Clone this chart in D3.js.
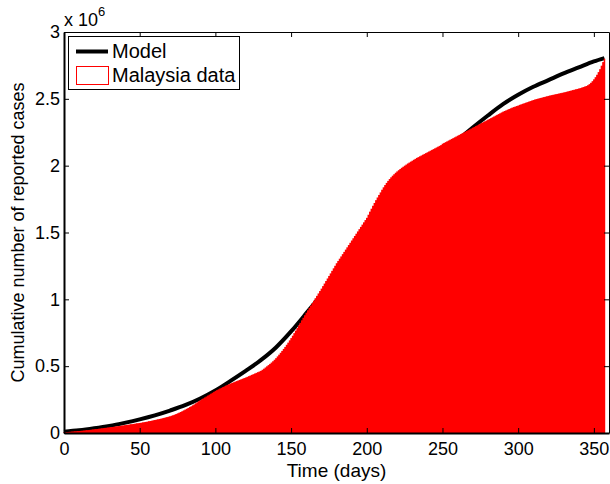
<!DOCTYPE html>
<html lang="en">
<head>
<meta charset="UTF-8">
<title>Cumulative cases</title>
<script src="https://d3js.org/d3.v7.min.js"></script>
<style>
  body { margin: 0; background: white; }
  svg text { font-family: "Liberation Sans", Arial, sans-serif; fill: black; }
</style>
</head>
<body>
<svg id="chart"></svg>
<script>
// daily reported cumulative cases (thousands), day 0..357
const reported = [
  5,6,7,8,9,10,11,12,13,14,
  15,16,17,18,20,21,22,23,25,26,
  28,29,30,32,33,35,36,38,39,41,
  42,44,45,47,48,50,51,53,55,56,
  58,60,61,63,65,66,68,70,72,73,
  75,77,79,81,83,85,88,90,92,95,
  97,100,102,105,107,110,113,116,119,122,
  125,129,133,137,142,147,152,157,163,169,
  175,181,187,194,200,207,214,222,230,238,
  245,252,259,266,273,280,287,294,301,308,
  315,321,327,333,338,344,349,355,360,365,
  370,375,379,384,388,393,397,402,406,411,
  415,420,425,430,435,440,445,450,455,460,
  465,473,481,490,499,508,517,527,537,548,
  560,573,586,600,614,629,644,660,676,693,
  710,728,747,766,785,805,824,843,862,881,
  900,918,936,954,972,990,1008,1026,1044,1062,
  1080,1099,1118,1137,1156,1175,1194,1213,1232,1251,
  1270,1287,1304,1321,1338,1355,1372,1389,1406,1423,
  1440,1457,1474,1491,1508,1525,1542,1559,1576,1593,
  1610,1633,1656,1678,1700,1721,1742,1762,1781,1800,
  1820,1838,1855,1871,1886,1900,1913,1925,1936,1947,
  1957,1966,1975,1984,1992,2000,2008,2016,2023,2030,
  2037,2044,2051,2058,2064,2070,2076,2082,2088,2094,
  2100,2106,2112,2118,2124,2130,2136,2142,2148,2154,
  2164,2170,2176,2182,2188,2194,2200,2206,2212,2218,
  2224,2230,2236,2242,2248,2254,2260,2266,2272,2278,
  2284,2290,2296,2302,2308,2314,2320,2326,2332,2338,
  2344,2350,2356,2362,2368,2374,2380,2386,2392,2398,
  2404,2409,2414,2419,2424,2429,2434,2438,2442,2446,
  2450,2455,2459,2463,2467,2471,2475,2479,2483,2487,
  2491,2495,2498,2501,2504,2507,2510,2513,2516,2519,
  2522,2525,2527,2530,2532,2535,2537,2540,2542,2545,
  2547,2550,2553,2556,2559,2562,2565,2568,2571,2574,
  2577,2580,2584,2588,2592,2596,2602,2610,2620,2632,
  2646,2662,2680,2700,2722,2748,2775,2800
];

// model curve (thousands)
const modelDays = [0,10,20,30,40,50,60,70,80,90,100,110,120,130,140,150,160,170,180,190,
  200,210,220,230,240,250,260,270,280,290,300,310,320,330,340,350,357];
const modelCases = [10,20,35,53,76,102,132,168,208,258,318,390,465,545,640,760,895,1035,1180,1325,
  1465,1600,1730,1855,1975,2090,2190,2285,2375,2460,2530,2590,2640,2690,2735,2780,2805];

const xTicks = [0,50,100,150,200,250,300,350];
const yTicks = [0,0.5,1,1.5,2,2.5,3];

const W = 610, H = 484;
const mLeft = 64, mRight = 609, mTop = 32, mBottom = 433;

const svg = d3.select("#chart").attr("width", W).attr("height", H);

const x = d3.scaleLinear().domain([0, 360]).range([mLeft, mRight]);
const y = d3.scaleLinear().domain([0, 3]).range([mBottom, mTop]);

// model line first, bars drawn over it
const line = d3.line()
  .x((d, i) => x(modelDays[i]))
  .y(d => y(d / 1000))
  .curve(d3.curveMonotoneX);

svg.append("path")
  .datum(modelCases)
  .attr("d", line)
  .attr("fill", "none")
  .attr("stroke", "black")
  .attr("stroke-width", 4);

// bars overlap a little so the line underneath does not bleed through
const bw = x(1) - x(0);
svg.append("g").selectAll("rect")
  .data(reported)
  .enter()
  .append("rect")
  .attr("x", (d, i) => x(i) - bw / 2)
  .attr("y", d => y(d / 1000))
  .attr("width", (d, i) => i === reported.length - 1 ? bw : bw + 1.2)
  .attr("height", d => mBottom - y(d / 1000))
  .attr("fill", "#ff0000");

// axes, MATLAB style: ticks inward on all sides
const fs = "18px";
svg.append("g")
  .attr("transform", "translate(0," + mBottom + ")")
  .call(d3.axisBottom(x).tickValues(xTicks).tickSizeInner(-5).tickSizeOuter(0).tickPadding(9))
  .call(g => g.select(".domain").attr("stroke-width", 2))
  .call(g => g.selectAll("text").style("font-size", fs));

svg.append("g")
  .attr("transform", "translate(" + mLeft + ",0)")
  .call(d3.axisLeft(y).tickValues(yTicks).tickFormat(d3.format("")).tickSizeInner(-5).tickSizeOuter(0).tickPadding(4))
  .call(g => g.select(".domain").attr("stroke-width", 2))
  .call(g => g.selectAll("text").style("font-size", fs));

svg.append("g")
  .attr("transform", "translate(0," + mTop + ")")
  .call(d3.axisTop(x).tickValues(xTicks).tickSizeInner(-5).tickSizeOuter(0).tickFormat(""));

svg.append("g")
  .attr("transform", "translate(" + mRight + ",0)")
  .call(d3.axisRight(y).tickValues(yTicks).tickSizeInner(-5).tickSizeOuter(0).tickFormat(""));

// exponent label
const ex = svg.append("text").attr("x", 64).attr("y", 26).style("font-size", "18px");
ex.append("tspan").text("x 10");
ex.append("tspan").attr("dy", -10).style("font-size", "13px").text("6");

// axis titles
svg.append("text")
  .attr("x", (mLeft + mRight) / 2)
  .attr("y", 477)
  .attr("text-anchor", "middle")
  .style("font-size", "19px")
  .text("Time (days)");

svg.append("text")
  .attr("transform", "translate(24," + (mTop + mBottom) / 2 + ") rotate(-90)")
  .attr("text-anchor", "middle")
  .style("font-size", "18px")
  .text("Cumulative number of reported cases");

// legend
const lg = svg.append("g");
lg.append("rect")
  .attr("x", 68.5).attr("y", 36.5).attr("width", 171).attr("height", 53)
  .attr("fill", "white").attr("stroke", "black").attr("stroke-width", 1);
lg.append("line")
  .attr("x1", 76).attr("x2", 108).attr("y1", 51.5).attr("y2", 51.5)
  .attr("stroke", "black").attr("stroke-width", 4);
lg.append("text").attr("x", 112).attr("y", 58).style("font-size", "20px").text("Model");
lg.append("rect")
  .attr("x", 76.5).attr("y", 66.5).attr("width", 32).attr("height", 18)
  .attr("fill", "white").attr("stroke", "#ff0000").attr("stroke-width", 1);
lg.append("text").attr("x", 112).attr("y", 82).style("font-size", "20px").text("Malaysia data");
</script>
</body>
</html>
